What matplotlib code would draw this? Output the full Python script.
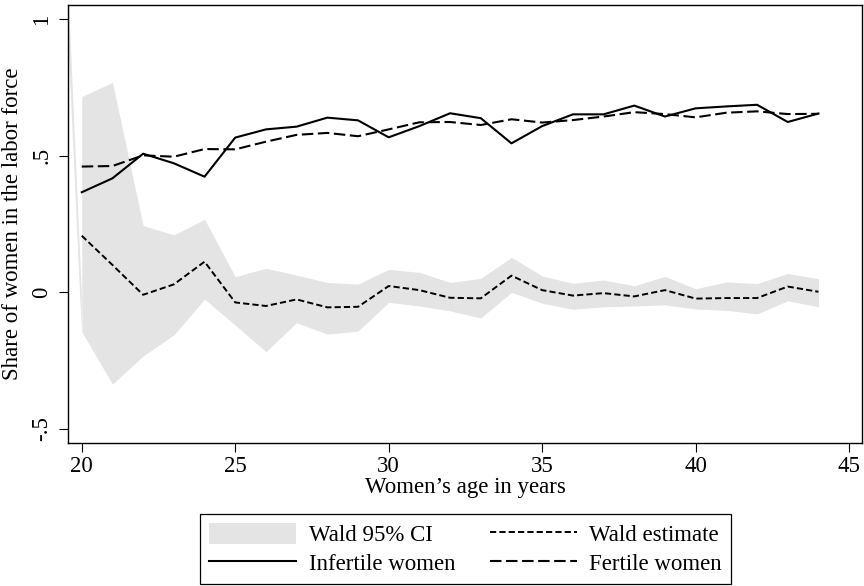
import matplotlib
matplotlib.use("Agg")
import matplotlib.pyplot as plt
from matplotlib.patches import Patch
from matplotlib.lines import Line2D

plt.rcParams['font.family'] = ['Liberation Serif', 'DejaVu Serif']
FS = 16.5

# data
age = list(range(20, 45))
infertile = [0.366, 0.417, 0.507, 0.472, 0.423, 0.566, 0.596, 0.606, 0.639, 0.629,
             0.567, 0.608, 0.655, 0.637, 0.545, 0.608, 0.651, 0.651, 0.683, 0.643,
             0.673, 0.680, 0.686, 0.623, 0.654]
fertile = [0.460, 0.462, 0.501, 0.496, 0.524, 0.523, 0.551, 0.576, 0.583, 0.571,
           0.596, 0.622, 0.623, 0.612, 0.633, 0.621, 0.630, 0.643, 0.659, 0.652,
           0.640, 0.657, 0.662, 0.652, 0.653]
wald = [0.207, 0.100, -0.009, 0.029, 0.112, -0.037, -0.050, -0.026, -0.055, -0.053,
        0.023, 0.008, -0.020, -0.022, 0.061, 0.008, -0.012, -0.003, -0.015, 0.008,
        -0.023, -0.021, -0.021, 0.021, 0.002]
ci_hi = [0.716, 0.768, 0.244, 0.210, 0.267, 0.057, 0.088, 0.063, 0.036, 0.030,
         0.084, 0.073, 0.036, 0.051, 0.128, 0.060, 0.033, 0.045, 0.024, 0.058,
         0.013, 0.038, 0.032, 0.069, 0.050]
ci_lo = [-0.144, -0.336, -0.233, -0.156, -0.025, -0.120, -0.217, -0.111, -0.153, -0.142,
         -0.037, -0.050, -0.068, -0.094, 0.000, -0.040, -0.062, -0.053, -0.050, -0.046,
         -0.061, -0.066, -0.079, -0.031, -0.053]
# thin band piece running in from age 19 (off the plot)
edge_age = [19, 20]
edge_lo = [2.3, -0.14]
edge_hi = [2.55, 0.0]

xticks = [20, 25, 30, 35, 40, 45]
yticks = [-0.5, 0, 0.5, 1]
ytick_labels = ['-.5', '0', '.5', '1']

band_col = '#e4e4e4'

fig = plt.figure(figsize=(8.64, 5.86), dpi=100)
ax = fig.add_axes([0.079, 0.2446, 0.9187, 0.7464])

ax.fill_between(age, ci_lo, ci_hi, color=band_col, lw=0)
ax.fill_between(edge_age, edge_lo, edge_hi, color=band_col, lw=0)
ax.plot(age, wald, color='black', lw=1.4, dashes=(3.2, 1.6))
ax.plot(age, infertile, color='black', lw=1.5)
ax.plot(age, fertile, color='black', lw=1.5, dashes=(5.5, 2.2))

ax.set_xlim(19.56, 45.42)
ax.set_ylim(-0.55, 1.05)
ax.set_xticks(xticks)
ax.set_yticks(yticks)
ax.set_yticklabels(ytick_labels, rotation=90, va='center')
ax.tick_params(axis='both', labelsize=FS, length=6.5, width=0.8, direction='out')
ax.tick_params(axis='x', pad=3)
ax.tick_params(axis='y', pad=5)
for s in ax.spines.values():
    s.set_linewidth(1.0)

ax.set_xlabel('Women\u2019s age in years', fontsize=FS, labelpad=0)
ax.set_ylabel('Share of women in the labor force', fontsize=FS, labelpad=6)

handles = [Patch(facecolor=band_col, edgecolor='none'),
           Line2D([], [], color='black', lw=1.5),
           Line2D([], [], color='black', lw=1.4, dashes=(3.2, 1.6)),
           Line2D([], [], color='black', lw=1.5, dashes=(5.5, 2.2))]
labels = ['Wald 95% CI', 'Infertile women', 'Wald estimate', 'Fertile women']
leg = fig.legend(handles, labels, ncol=2, loc='upper center',
                 bbox_to_anchor=(0.5388, 0.1229), bbox_transform=fig.transFigure,
                 fontsize=FS, frameon=True, fancybox=False, framealpha=1,
                 edgecolor='black', handlelength=3.8, handleheight=1.0,
                 handletextpad=0.55, columnspacing=1.5, labelspacing=0.25,
                 borderpad=0.4, borderaxespad=0)
leg.get_frame().set_linewidth(0.9)

fig.savefig('out.png', dpi=100)
